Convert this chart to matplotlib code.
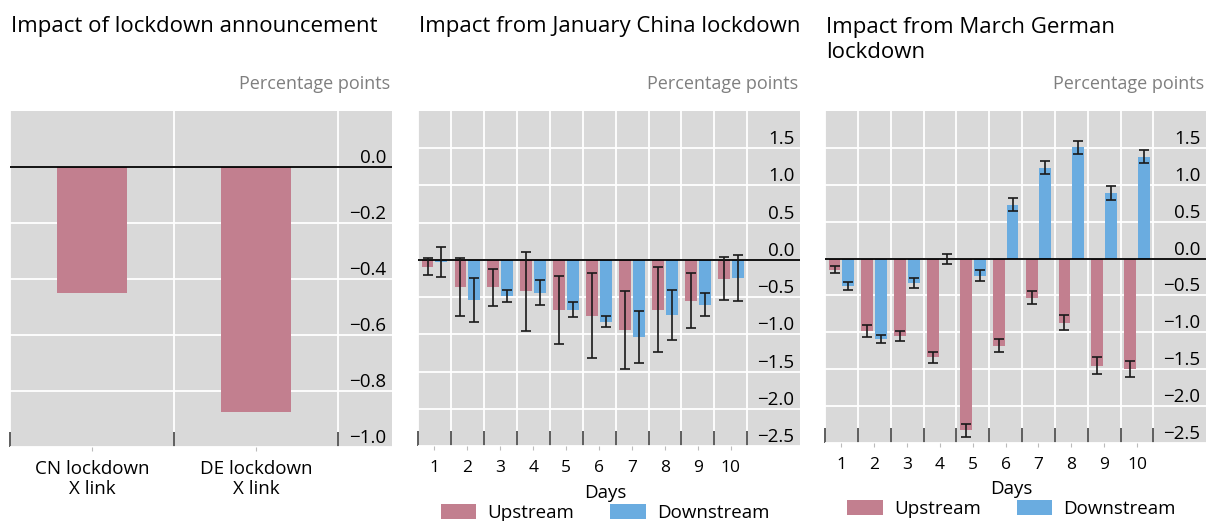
import matplotlib
matplotlib.use("Agg")
import matplotlib.pyplot as plt
import numpy as np

plt.rcParams['font.family'] = ['Open Sans', 'DejaVu Sans']

# ---------------- data ----------------
ann_categories = ["CN lockdown\nX link", "DE lockdown\nX link"]
ann_values = [-0.45, -0.875]

days = list(range(1, 11))
cn_up = [-0.09, -0.36, -0.37, -0.42, -0.67, -0.75, -0.94, -0.67, -0.55, -0.25]
cn_up_err = [0.11, 0.39, 0.25, 0.53, 0.46, 0.57, 0.52, 0.57, 0.37, 0.29]
cn_down = [-0.03, -0.54, -0.48, -0.44, -0.67, -0.83, -1.04, -0.74, -0.60, -0.24]
cn_down_err = [0.20, 0.30, 0.08, 0.17, 0.10, 0.07, 0.35, 0.33, 0.15, 0.31]

de_up = [-0.15, -0.98, -1.05, -1.34, -2.33, -1.18, -0.53, -0.87, -1.45, -1.50]
de_up_err = [0.05, 0.08, 0.07, 0.08, 0.09, 0.09, 0.09, 0.10, 0.11, 0.11]
de_down = [-0.37, -1.09, -0.33, -0.01, -0.23, 0.73, 1.23, 1.51, 0.89, 1.38]
de_down_err = [0.05, 0.06, 0.07, 0.07, 0.08, 0.09, 0.09, 0.09, 0.09, 0.09]

titles = ["Impact of lockdown announcement",
          "Impact from January China lockdown",
          "Impact from March German\nlockdown"]
unit_label = "Percentage points"
series_names = ["Upstream", "Downstream"]
xlabel_days = "Days"

UP = "#c27f8f"
DOWN = "#6aace0"
BG = "#d9d9d9"

W, H = 1207, 521
fig = plt.figure(figsize=(W / 100, H / 100), dpi=100)


def px_axes(x0, y0, x1, y1):
    return fig.add_axes([x0 / W, 1 - y1 / H, (x1 - x0) / W, (y1 - y0) / H])


def style_axes(ax, yticks, fmt):
    ax.set_facecolor(BG)
    for s in ax.spines.values():
        s.set_visible(False)
    ax.set_yticks(yticks)
    ax.set_yticklabels([fmt(v).replace("-", "\u2212") for v in yticks])
    ax.yaxis.tick_right()
    ax.tick_params(axis='y', length=0, pad=-4, labelsize=13.5, labelcolor='black')
    for lab in ax.get_yticklabels():
        lab.set_horizontalalignment('right')
        lab.set_verticalalignment('bottom')
    ax.grid(True, which='major', axis='y', color='white', lw=1.3)
    ax.grid(True, which='minor', axis='x', color='white', lw=1.3)
    ax.tick_params(axis='x', which='minor', direction='in', length=11, width=1.1,
                   color='#333333')
    ax.tick_params(axis='x', which='major', length=3, width=0.8, color='#bbbbbb',
                   labelsize=12.5, pad=7)
    ax.set_axisbelow(True)
    ax.axhline(0, color='black', lw=1.3, zorder=3)


# ---------------- panel 1 ----------------
ax1 = px_axes(10, 111, 392, 447)
x1 = np.arange(len(ann_categories))
ax1.bar(x1, ann_values, width=0.43, color=UP, zorder=2)
ax1.set_xlim(-0.5, 1.83)
ax1.set_ylim(-1.0, 0.2)
style_axes(ax1, [-1.0, -0.8, -0.6, -0.4, -0.2, 0.0], lambda v: f"{v:.1f}")
ax1.set_xticks(x1)
ax1.set_xticklabels(ann_categories, fontsize=13.5, linespacing=1.15)
ax1.set_xticks(np.arange(-0.5, len(ann_categories)), minor=True)
ax1.tick_params(axis='x', which='major', pad=6)

# ---------------- panels 2 & 3 ----------------
def day_panel(ax, up, up_err, down, down_err):
    d = np.array(days)
    ax.bar(d - 0.21, up, width=0.36, color=UP, zorder=2, label=series_names[0])
    ax.bar(d + 0.21, down, width=0.36, color=DOWN, zorder=2, label=series_names[1])
    ek = dict(fmt='none', ecolor='#1a1a1a', elinewidth=1.2, capsize=3.8,
              capthick=1.2, zorder=4)
    ax.errorbar(d - 0.21, up, yerr=up_err, **ek)
    ax.errorbar(d + 0.21, down, yerr=down_err, **ek)
    ax.set_xlim(0.5, 12.1)
    ax.set_ylim(-2.5, 2.0)
    style_axes(ax, [-2.5, -2.0, -1.5, -1.0, -0.5, 0.0, 0.5, 1.0, 1.5],
               lambda v: f"{v:.1f}")
    ax.set_xticks(d)
    ax.set_xticklabels([str(v) for v in days])
    ax.set_xticks(np.arange(0.5, 11.0, 1.0), minor=True)
    ax.text(0.49, -0.14, xlabel_days, transform=ax.transAxes, ha='center',
            va='center', fontsize=13.5)
    ax.legend(loc='center', bbox_to_anchor=(0.49, -0.2), ncol=2, frameon=False,
              fontsize=13.5, handlelength=1.9, handleheight=0.85,
              columnspacing=1.9, handletextpad=0.6, borderaxespad=0,
              borderpad=0)


ax2 = px_axes(418, 111, 800, 446)
day_panel(ax2, cn_up, cn_up_err, cn_down, cn_down_err)
ax3 = px_axes(825, 111, 1206, 443)
day_panel(ax3, de_up, de_up_err, de_down, de_down_err)

# ---------------- titles ----------------
for ax, t in zip([ax1, ax2, ax3], titles):
    bb = ax.get_position()
    nlines = t.count("\n")
    fig.text(bb.x0 + 1 / W, 1 - (32 + 26 * nlines) / H, t, ha='left',
             va='baseline', fontsize=16, linespacing=1.26)
    fig.text(bb.x1 - 2 / W, 1 - 89 / H, unit_label, ha='right', va='baseline',
             fontsize=13, color='#7f7f7f')

fig.savefig("out.png", dpi=100)
